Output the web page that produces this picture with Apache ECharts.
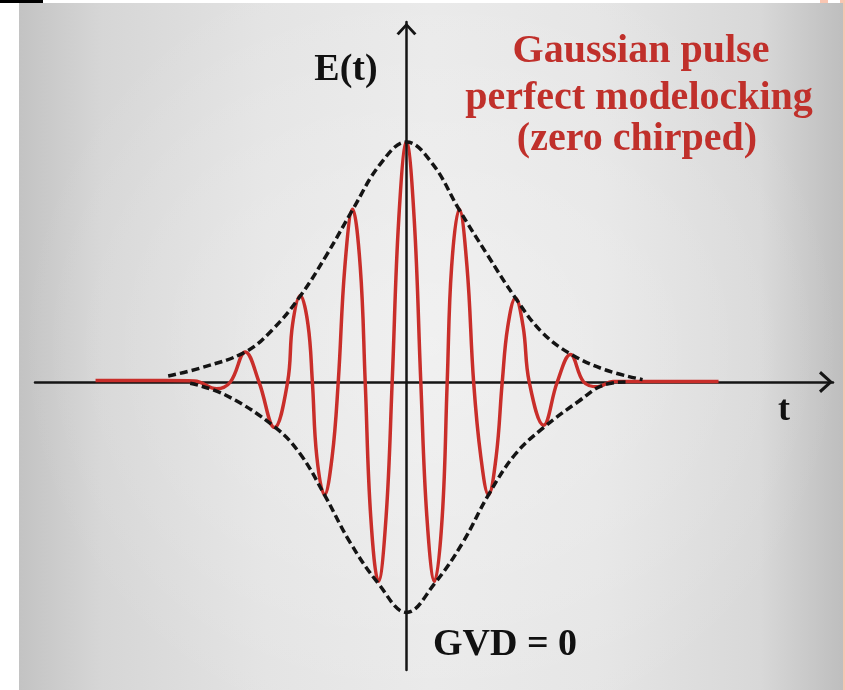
<!DOCTYPE html>
<html>
<head>
<meta charset="utf-8">
<script src="https://cdn.jsdelivr.net/npm/echarts@6/dist/echarts.min.js"></script>
<style>
  html, body { margin: 0; padding: 0; background: #ffffff; }
  #chart { width: 845px; height: 690px; }
</style>
</head>
<body>
<div id="chart"></div>
<script>
// Carrier field E(t): extrema, shoulders and zero crossings of the oscillation (t in carrier periods)
const carrierT = [-5.65, -4.4, -3.85, -3.45, -3.2, -2.93, -2.68, -2.40, -2.16, -2.07, -1.93, -1.79, -1.71, -1.63, -1.49, -1.35, -1.24,
                  -1.12, -0.98, -0.84, -0.75, -0.65, -0.51, -0.37, -0.26, -0.14, 0, 0.14, 0.26, 0.37, 0.51, 0.65, 0.74,
                  0.82, 0.96, 1.10, 1.22, 1.35, 1.49, 1.63, 1.74, 1.84, 1.98, 2.12, 2.23, 2.49, 2.74, 2.98, 3.22, 3.47,
                  3.75, 4.4, 5.67];
const carrierE = [0.006, 0.006, 0.004, -0.028, 0, 0.125, 0, -0.19, 0, 0.24, 0.36, 0.24, 0, -0.31, -0.47, -0.31, 0,
                  0.48, 0.72, 0.48, 0, -0.56, -0.83, -0.56, 0, 0.68, 1.0, 0.68, 0, -0.56, -0.83, -0.56, 0,
                  0.48, 0.72, 0.48, 0, -0.31, -0.47, -0.31, 0, 0.23, 0.35, 0.23, 0, -0.18, 0, 0.115, 0, -0.02,
                  0.002, 0.002, 0.002];

// Upper envelope (dashed)
const envUpperT = [-4.33, -3.75, -2.93, -2.44, -1.93, -1.45, -0.98, -0.47, 0, 0.47, 0.96, 1.47, 1.98, 2.45, 2.98, 3.62, 4.29];
const envUpperE = [0.025, 0.058, 0.125, 0.217, 0.358, 0.53, 0.717, 0.91, 1.0, 0.91, 0.717, 0.53, 0.35, 0.21, 0.117, 0.05, 0.01];

// Lower envelope (dashed)
const envLowerT = [-3.93, -3.29, -2.38, -1.93, -1.49, -1.02, -0.51, 0, 0.51, 1.02, 1.49, 1.98, 2.49, 3.13, 3.58, 3.98];
const envLowerE = [-0.005, -0.054, -0.19, -0.30, -0.47, -0.67, -0.84, -0.96, -0.84, -0.67, -0.47, -0.30, -0.19, -0.08, -0.0125, 0];

// Text
const yAxisName = 'E(t)';
const xAxisName = 't';
const titleLines = ['Gaussian pulse', 'perfect modelocking', '(zero chirped)'];
const noteText = 'GVD = 0';

const zip = (a, b) => a.map((v, i) => [v, b[i]]);

const serif = '"Liberation Serif", "Times New Roman", serif';
const arrowUp = 'path://M11,0 L22,12 L19.5,14 L11,4.5 L2.5,14 L0,12 Z';

const chart = echarts.init(document.getElementById('chart'), null, { renderer: 'canvas' });

const option = {
  animation: false,
  backgroundColor: '#ffffff',
  grid: { left: 35, right: 12, top: 22, bottom: 20, containLabel: false, outerBoundsMode: 'none' },
  xAxis: {
    type: 'value', min: -6.75, max: 7.75,
    axisLine: {
      onZero: true,
      lineStyle: { color: '#151515', width: 2.5 },
      symbol: ['none', arrowUp], symbolSize: [22, 14], symbolOffset: [0, -7]
    },
    axisTick: { show: false }, axisLabel: { show: false }, splitLine: { show: false }
  },
  yAxis: {
    type: 'value', min: -1.2, max: 1.5, z: 3,
    axisLine: {
      onZero: true,
      lineStyle: { color: '#151515', width: 2.5 },
      symbol: ['none', arrowUp], symbolSize: [20, 14], symbolOffset: [0, -7]
    },
    axisTick: { show: false }, axisLabel: { show: false }, splitLine: { show: false }
  },
  series: [
    {
      name: 'carrier', type: 'line', data: zip(carrierT, carrierE),
      showSymbol: false, smooth: 0.4, z: 2,
      lineStyle: { color: '#c92e2a', width: 3.5 }
    },
    {
      name: 'envelope upper', type: 'line', data: zip(envUpperT, envUpperE),
      showSymbol: false, smooth: 0.4, z: 4,
      lineStyle: { color: '#141414', width: 3.5, type: [8, 4] }
    },
    {
      name: 'envelope lower', type: 'line', data: zip(envLowerT, envLowerE),
      showSymbol: false, smooth: 0.4, z: 4,
      lineStyle: { color: '#141414', width: 3.5, type: [8, 4] }
    }
  ],
  graphic: [
    // grey panel
    { type: 'rect', z: -10, silent: true, shape: { x: 19, y: 3, width: 824, height: 687 },
      style: { fill: { type: 'linear', x: 0, y: 0, x2: 1, y2: 0, colorStops: [
        { offset: 0, color: '#c3c3c3' }, { offset: 0.1, color: '#d6d6d6' }, { offset: 0.3, color: '#e3e3e3' },
        { offset: 0.5, color: '#e9e9e9' }, { offset: 0.7, color: '#e5e5e5' }, { offset: 0.9, color: '#d8d8d8' },
        { offset: 1, color: '#bebebe' } ] } } },
    { type: 'rect', z: -9, silent: true, shape: { x: 19, y: 3, width: 824, height: 687 },
      style: { fill: { type: 'radial', x: 0.5, y: 0.5, r: 0.6, colorStops: [
        { offset: 0, color: 'rgba(255,255,255,0.35)' }, { offset: 1, color: 'rgba(255,255,255,0)' } ] } } },
    // frame pieces
    { type: 'rect', z: -8, silent: true, shape: { x: 0, y: 0, width: 43, height: 3 }, style: { fill: '#000000' } },
    { type: 'rect', z: -8, silent: true, shape: { x: 843, y: 3, width: 2, height: 687 }, style: { fill: '#f9c6b2' } },
    { type: 'rect', z: -8, silent: true, shape: { x: 820, y: 0, width: 8, height: 3 }, style: { fill: '#f9c6b2' } },
    { type: 'rect', z: -8, silent: true, shape: { x: 840, y: 0, width: 5, height: 3 }, style: { fill: '#f9c6b2' } },
    // labels
    { type: 'text', z: 10, x: 346, y: 70, style: { text: yAxisName, font: 'bold 38px ' + serif, fill: '#111111', textAlign: 'center', textVerticalAlign: 'middle' } },
    { type: 'text', z: 10, x: 784, y: 411, style: { text: xAxisName, font: 'bold 36px ' + serif, fill: '#111111', textAlign: 'center', textVerticalAlign: 'middle' } },
    { type: 'text', z: 10, x: 641, y: 52, style: { text: titleLines[0], font: 'bold 40px ' + serif, fill: '#c0302b', textAlign: 'center', textVerticalAlign: 'middle' } },
    { type: 'text', z: 10, x: 639, y: 99, style: { text: titleLines[1], font: 'bold 40px ' + serif, fill: '#c0302b', textAlign: 'center', textVerticalAlign: 'middle' } },
    { type: 'text', z: 10, x: 637, y: 140, style: { text: titleLines[2], font: 'bold 40px ' + serif, fill: '#c0302b', textAlign: 'center', textVerticalAlign: 'middle' } },
    { type: 'text', z: 10, x: 505, y: 645, style: { text: noteText, font: 'bold 38px ' + serif, fill: '#111111', textAlign: 'center', textVerticalAlign: 'middle' } }
  ]
};

chart.setOption(option);
</script>
</body>
</html>
